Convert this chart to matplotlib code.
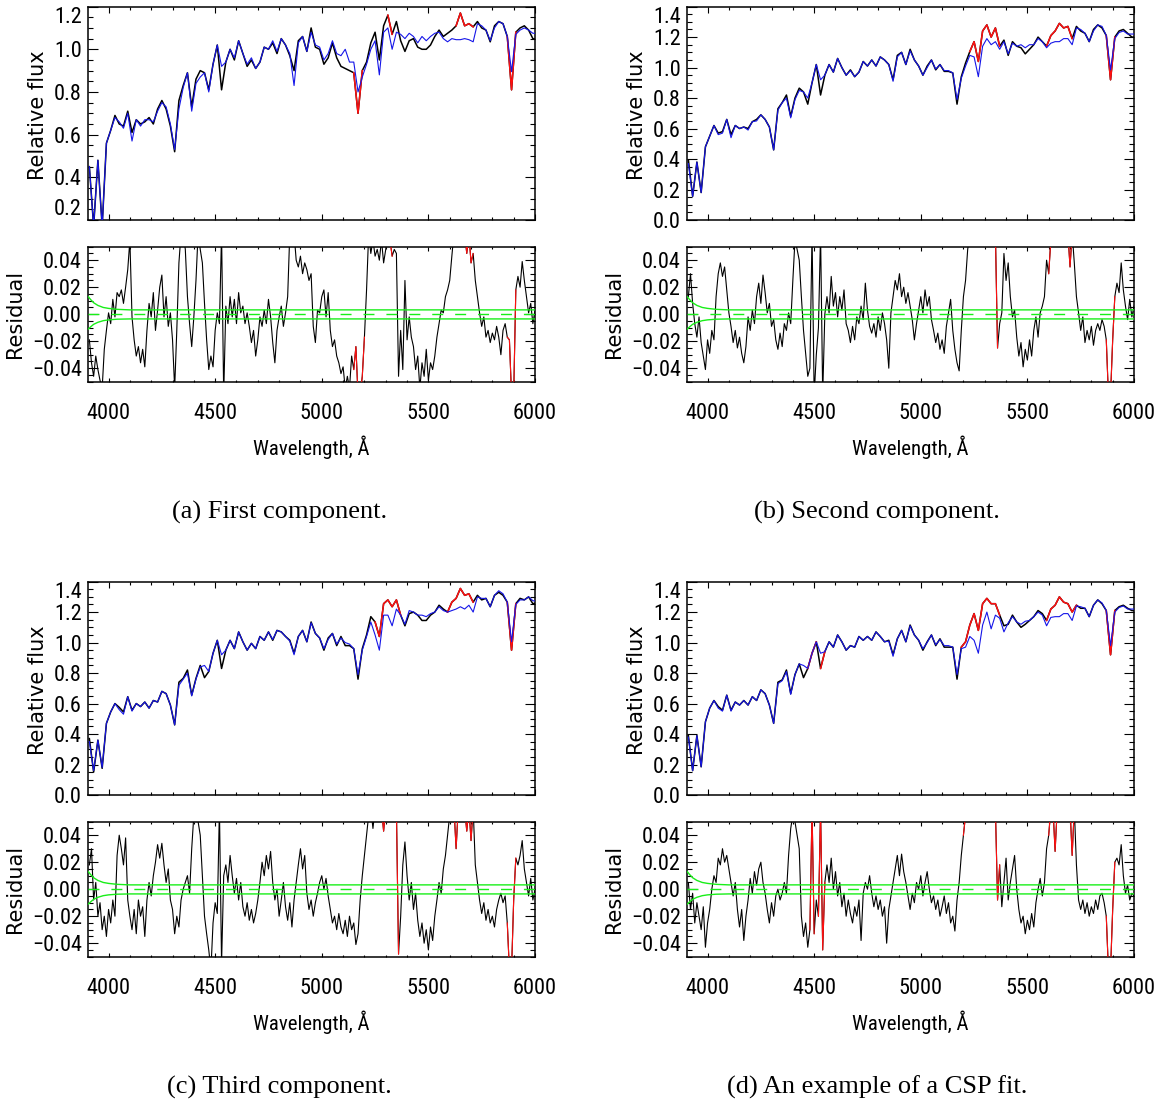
import numpy as np
import matplotlib
matplotlib.use("Agg")
import matplotlib.pyplot as plt
from matplotlib import font_manager
from matplotlib.ticker import MultipleLocator, FormatStrFormatter, FuncFormatter

# ---------------------------------------------------------------- data
# flux grid: 3910 .. 5990 every 20 A, plus 6010
flux_lam = np.array(list(range(3910, 6000, 20)) + [6010], dtype=float)
# residual grid: 3910 .. 6000 every 10 A
res_lam = np.arange(3910, 6001, 10, dtype=float)

flux_a_obs = [
    0.45, 0.17, 0.48, 0.17, 0.56,
    0.62, 0.69, 0.65, 0.64, 0.71,
    0.61, 0.67, 0.65, 0.66, 0.68,
    0.65, 0.72, 0.76, 0.72, 0.64,
    0.52, 0.76, 0.83, 0.89, 0.73,
    0.86, 0.90, 0.89, 0.81, 0.93,
    1.02, 0.81, 0.94, 1.00, 0.95,
    1.04, 0.98, 0.92, 0.95, 0.91,
    0.94, 1.01, 1.00, 1.03, 0.98,
    1.05, 1.02, 0.97, 0.90, 1.04,
    1.06, 0.99, 1.10, 1.01, 1.00,
    0.93, 0.96, 1.03, 0.96, 0.92,
    0.91, 0.90, 0.89, 0.70, 0.90,
    0.94, 1.03, 1.08, 0.95, 1.11,
    1.16, 1.07, 1.13, 1.04, 0.99,
    1.04, 1.05, 1.01, 1.00, 1.00,
    1.02, 1.06, 1.09, 1.06, 1.075,
    1.09, 1.11, 1.17, 1.11, 1.12,
    1.105, 1.13, 1.10, 1.09, 1.035,
    1.11, 1.13, 1.12, 1.06, 0.81,
    1.08, 1.10, 1.11, 1.09, 1.05,
    1.045]
flux_a_mod = [
    0.45, 0.17, 0.48, 0.17, 0.56,
    0.62, 0.68, 0.66, 0.63, 0.70,
    0.57, 0.67, 0.64, 0.67, 0.67,
    0.66, 0.71, 0.75, 0.73, 0.65,
    0.53, 0.72, 0.82, 0.89, 0.71,
    0.84, 0.87, 0.89, 0.80, 0.93,
    1.02, 0.92, 0.94, 1.00, 0.96,
    1.04, 0.98, 0.93, 0.96, 0.91,
    0.94, 1.01, 1.00, 1.04, 0.99,
    1.05, 1.02, 0.98, 0.83, 1.03,
    1.06, 0.99, 1.08, 1.02, 1.01,
    0.95, 0.98, 1.04, 0.98, 0.97,
    1.00, 0.94, 0.94, 0.80, 0.87,
    0.93, 1.00, 1.04, 0.88, 1.08,
    1.10, 1.00, 1.08, 1.07, 1.05,
    1.075, 1.06, 1.03, 1.06, 1.04,
    1.06, 1.075, 1.08, 1.05, 1.035,
    1.05, 1.045, 1.045, 1.05, 1.045,
    1.035, 1.12, 1.11, 1.09, 1.04,
    1.10, 1.13, 1.12, 1.06, 0.895,
    1.07, 1.09, 1.10, 1.09, 1.075,
    1.075]

flux_b_obs = [
    0.395, 0.155, 0.38, 0.18, 0.48,
    0.55, 0.62, 0.57, 0.58, 0.66,
    0.56, 0.62, 0.60, 0.61, 0.60,
    0.645, 0.66, 0.69, 0.66, 0.61,
    0.46, 0.73, 0.77, 0.82, 0.68,
    0.80, 0.865, 0.84, 0.76, 0.90,
    1.02, 0.82, 0.95, 1.02, 0.97,
    1.06, 1.00, 0.95, 0.985, 0.94,
    0.97, 1.04, 1.01, 1.05, 1.01,
    1.07, 1.05, 1.02, 0.92, 1.08,
    1.10, 1.02, 1.12, 1.05, 1.01,
    0.95, 1.01, 1.05, 0.985, 1.02,
    0.975, 0.975, 0.965, 0.76, 0.94,
    1.03, 1.105, 1.17, 1.04, 1.24,
    1.28, 1.20, 1.26, 1.14, 1.18,
    1.08, 1.17, 1.14, 1.13, 1.09,
    1.12, 1.15, 1.20, 1.17, 1.14,
    1.21, 1.24, 1.29, 1.26, 1.27,
    1.19, 1.27, 1.24, 1.225, 1.17,
    1.25, 1.28, 1.26, 1.21, 0.92,
    1.20, 1.24, 1.25, 1.225, 1.20,
    1.20]
flux_b_mod = [
    0.37, 0.155, 0.38, 0.18, 0.48,
    0.55, 0.62, 0.56, 0.57, 0.66,
    0.54, 0.62, 0.60, 0.61, 0.59,
    0.645, 0.65, 0.69, 0.66, 0.61,
    0.46, 0.72, 0.77, 0.80, 0.67,
    0.79, 0.85, 0.84, 0.80, 0.90,
    1.02, 0.92, 0.95, 1.02, 0.97,
    1.06, 1.00, 0.95, 0.98, 0.94,
    0.97, 1.04, 1.01, 1.05, 1.01,
    1.07, 1.05, 1.02, 0.91, 1.07,
    1.10, 1.02, 1.11, 1.05, 1.01,
    0.95, 1.00, 1.05, 0.99, 1.02,
    0.98, 0.98, 0.965, 0.79, 0.93,
    1.01, 1.08, 1.07, 0.94, 1.14,
    1.19, 1.15, 1.17, 1.12, 1.17,
    1.09, 1.16, 1.14, 1.15, 1.13,
    1.15, 1.15, 1.19, 1.17, 1.13,
    1.16, 1.17, 1.17, 1.19, 1.19,
    1.15, 1.26, 1.25, 1.225, 1.17,
    1.24, 1.28, 1.27, 1.21, 0.985,
    1.19, 1.23, 1.24, 1.22, 1.22,
    1.22]

flux_c_obs = [
    0.37, 0.15, 0.36, 0.175, 0.47,
    0.545, 0.60, 0.575, 0.545, 0.645,
    0.556, 0.60, 0.58, 0.61, 0.57,
    0.62, 0.61, 0.68, 0.665, 0.59,
    0.46, 0.74, 0.765, 0.82, 0.655,
    0.765, 0.85, 0.77, 0.81, 0.93,
    1.015, 0.83, 0.95, 1.015, 0.96,
    1.07, 1.005, 0.95, 0.995, 0.96,
    1.04, 1.015, 1.07, 1.015, 1.08,
    1.07, 1.04, 1.015, 0.93, 1.04,
    1.08, 1.005, 1.135, 1.06, 1.03,
    0.95, 1.03, 1.06, 0.98, 1.04,
    0.98, 0.98, 0.96, 0.76, 0.96,
    1.05, 1.17, 1.135, 1.04, 1.255,
    1.28, 1.235, 1.28, 1.18, 1.11,
    1.19, 1.20, 1.18, 1.145, 1.145,
    1.18, 1.20, 1.245, 1.22, 1.20,
    1.265, 1.29, 1.355, 1.31, 1.32,
    1.265, 1.31, 1.28, 1.29, 1.235,
    1.31, 1.33, 1.31, 1.265, 0.95,
    1.255, 1.29, 1.28, 1.30, 1.255,
    1.26]
flux_c_mod = [
    0.35, 0.16, 0.36, 0.18, 0.47,
    0.545, 0.60, 0.56, 0.53, 0.645,
    0.55, 0.60, 0.58, 0.61, 0.57,
    0.62, 0.61, 0.68, 0.665, 0.59,
    0.46, 0.72, 0.76, 0.80, 0.65,
    0.76, 0.84, 0.85, 0.81, 0.93,
    1.015, 0.92, 0.95, 1.015, 0.96,
    1.07, 1.005, 0.95, 0.995, 0.96,
    1.04, 1.015, 1.07, 1.02, 1.08,
    1.07, 1.04, 1.01, 0.92, 1.04,
    1.08, 1.005, 1.13, 1.06, 1.03,
    0.96, 1.02, 1.06, 0.99, 1.03,
    1.00, 0.99, 0.96, 0.79, 0.95,
    1.04, 1.135, 1.05, 0.95, 1.18,
    1.18, 1.11, 1.22, 1.18, 1.12,
    1.21, 1.20, 1.18, 1.18, 1.17,
    1.19, 1.20, 1.235, 1.21, 1.20,
    1.21, 1.22, 1.235, 1.22, 1.245,
    1.20, 1.30, 1.29, 1.29, 1.235,
    1.31, 1.34, 1.32, 1.265, 1.005,
    1.25, 1.28, 1.28, 1.30, 1.275,
    1.27]

flux_d_obs = [
    0.39, 0.16, 0.39, 0.185, 0.48,
    0.57, 0.62, 0.58, 0.556, 0.655,
    0.556, 0.61, 0.59, 0.62, 0.59,
    0.645, 0.62, 0.69, 0.665, 0.59,
    0.47, 0.74, 0.755, 0.82, 0.665,
    0.79, 0.86, 0.77, 0.83, 0.93,
    1.005, 0.83, 0.94, 1.005, 0.97,
    1.05, 1.005, 0.95, 0.98, 0.97,
    1.04, 1.015, 1.04, 1.015, 1.07,
    1.04, 1.005, 1.015, 0.92, 1.025,
    1.08, 1.005, 1.115, 1.05, 1.015,
    0.95, 1.005, 1.05, 0.98, 1.025,
    0.97, 0.97, 0.97, 0.76, 0.97,
    1.005, 1.115, 1.19, 1.08, 1.255,
    1.29, 1.255, 1.255, 1.18, 1.11,
    1.12, 1.18, 1.135, 1.10, 1.12,
    1.145, 1.17, 1.21, 1.19, 1.145,
    1.22, 1.245, 1.30, 1.265, 1.255,
    1.20, 1.245, 1.225, 1.225, 1.17,
    1.245, 1.28, 1.255, 1.21, 0.92,
    1.21, 1.235, 1.245, 1.225, 1.21,
    1.21]
flux_d_mod = [
    0.38, 0.16, 0.39, 0.185, 0.48,
    0.57, 0.62, 0.57, 0.55, 0.655,
    0.55, 0.61, 0.59, 0.62, 0.59,
    0.645, 0.62, 0.69, 0.665, 0.59,
    0.47, 0.73, 0.75, 0.81, 0.66,
    0.79, 0.86, 0.85, 0.83, 0.93,
    1.005, 0.93, 0.94, 1.005, 0.97,
    1.05, 1.005, 0.95, 0.98, 0.97,
    1.04, 1.015, 1.04, 1.015, 1.07,
    1.04, 1.005, 1.01, 0.91, 1.025,
    1.08, 1.005, 1.11, 1.05, 1.015,
    0.96, 1.00, 1.05, 0.985, 1.02,
    0.98, 0.98, 0.97, 0.79, 0.96,
    0.97, 1.04, 1.015, 0.93, 1.115,
    1.20, 1.09, 1.18, 1.16, 1.07,
    1.13, 1.17, 1.135, 1.12, 1.14,
    1.145, 1.17, 1.20, 1.18, 1.11,
    1.165, 1.17, 1.17, 1.19, 1.19,
    1.145, 1.24, 1.235, 1.225, 1.17,
    1.245, 1.28, 1.26, 1.21, 0.98,
    1.20, 1.23, 1.24, 1.22, 1.22,
    1.22]

# residuals in units of 0.001, 3910..6000 step 10 (rows of 100 A)
res_a = [
    -19, -36, -46, -31, -41, -49, -55, -26, -12, 1,
    -7, 11, -2, 16, 13, 18, 8, 20, 33, 55,
    -2, -19, -31, -24, -36, -26, -39, -12, 8, -2,
    16, -12, 3, 20, 29, -2, 13, -9, 1, -19,
    -55, -12, 38, 60, 60, 48, 13, -7, -24, -2,
    25, 60, 48, 38, 8, -19, -41, -31, -39, -12,
    1, -7, 60, -60, 6, -7, 13, -2, 11, -7,
    16, 1, 6, -7, 1, -9, -21, -12, -31, -19,
    -2, -9, 3, -7, 11, -2, -21, -36, -12, -2,
    6, -9, 1, 13, 60, 60, 60, 40, 35, 43,
    30, 38, 33, 25, 30, -9, -21, 3, 1, 13,
    18, -2, 16, -12, -24, -19, -31, -36, -44, -39,
    -55, -46, -55, -31, -41, -24, -60, -60, -46, -17,
    18, 60, 45, 55, 43, 48, 40, 55, 38, 48,
    60, 55, 43, 48, 45, -46, -12, -41, 25, -19,
    -2, -17, -24, -41, -31, -55, -36, -46, -26, -49,
    -36, -41, -31, -17, -7, 3, 1, 13, 18, 25,
    43, 60, 60, 60, 60, 55, 60, 45, 60, 38,
    45, 25, 13, 1, -9, -2, -17, -12, -21, -14,
    -19, -9, -17, -30, -12, -7, -17, -19, -60, -60,
    18, 28, 20, 39, 25, 13, 1, 8, -7, 3]
res_b = [
    13, 30, 8, -7, -17, -2, -21, -31, -41, -19,
    -29, -12, -19, 13, 30, 38, 28, 35, 18, 1,
    -9, -21, -12, -25, -17, -29, -36, -24, -2, -12,
    3, -7, 13, 23, 8, 29, 16, 1, 8, -9,
    -4, -19, -26, -14, -24, -7, -12, 1, -7, 25,
    55, 48, 40, 13, -12, -29, -46, -40, 60, -60,
    -30, -10, 60, -60, 0, 13, 1, 28, 6, 16,
    -2, 13, 3, 18, -7, -12, -21, -9, -19, -2,
    -7, 6, -4, 23, 3, -9, -14, -7, -17, -2,
    -12, 1, -7, -19, -40, 1, 13, 25, 18, 30,
    13, 20, 8, 16, 6, -4, -19, -7, 3, 13,
    1, 18, 6, 13, -4, -12, -21, -14, -26, -19,
    -29, -9, 1, 11, -12, -26, -36, -42, -12, 13,
    25, 48, 60, 60, 60, 60, 60, 60, 60, 60,
    60, 60, 60, 60, 60, -25, -7, 1, 45, 25,
    38, 13, -2, 3, -17, -31, -21, -39, -26, -34,
    -19, -31, -12, -2, -17, 1, 6, 13, 40, 30,
    55, 60, 60, 60, 60, 60, 60, 60, 60, 35,
    60, 38, 13, 1, -12, -2, -21, -12, -19, -9,
    -23, -12, -7, -12, -4, -9, -19, -60, -60, -19,
    13, 23, 16, 38, 18, 6, -4, 11, -2, 6]
res_c = [
    18, 30, -8, 5, -20, -10, -30, -20, -35, -15,
    -25, -8, -20, 25, 40, 30, 18, 38, -8, -20,
    -30, -15, -33, -8, -20, -13, -35, -8, 5, -5,
    10, 20, 33, 23, 34, 18, 5, 15, -8, -15,
    -33, -20, -28, -8, 0, 5, 10, -3, 30, 55,
    60, 50, 40, 10, -20, -33, -45, -60, -25, -10,
    -18, 60, -55, 10, 18, 5, 25, 10, -3, 8,
    -8, 5, -13, -20, -10, -23, -15, -25, -18, -8,
    5, 20, 10, 25, 15, 28, 5, -8, 0, -20,
    -8, 5, -13, -23, -10, -28, -8, 5, 18, 30,
    15, 25, -3, -15, -8, -20, -10, -3, 5, 10,
    0, 8, -5, -15, -25, -20, -30, -18, -28, -33,
    -23, -35, -20, -30, -25, -41, -33, -8, 10, 25,
    40, 55, 60, 45, 60, 60, 60, 60, 43, 60,
    60, 60, 60, 60, 60, -48, -20, 18, 35, 10,
    -8, 5, -15, -3, -23, -35, -25, -40, -30, -45,
    -28, -38, -20, -8, 5, -3, 15, 25, 40, 55,
    60, 60, 30, 60, 60, 60, 60, 43, 60, 36,
    60, 18, 5, -8, -18, -10, -23, -15, -25, -20,
    -28, -15, -8, -3, -10, -5, -25, -60, -60, -8,
    23, 18, 25, 36, 15, 5, -5, 8, -8, 0]
res_d = [
    5, -15, -3, -25, -10, -20, -30, -13, -43, -25,
    -15, 0, 10, 5, 23, 18, 30, 20, 25, 15,
    5, -5, 5, -15, -28, -15, -38, -20, -8, 8,
    -3, 13, 3, 15, 20, 5, -3, -15, -25, -10,
    -20, -5, 0, -8, -3, 5, -3, 25, 45, 55,
    50, 40, 30, -20, -35, -25, -43, -30, 60, -33,
    -8, -20, 60, -45, 5, 18, 5, 23, 0, 13,
    -5, 5, -13, -3, -20, -8, -18, -25, -13, -20,
    -8, -38, -3, 5, 0, 10, -3, -13, -5, -15,
    -8, -20, -13, -40, -15, -5, 5, 15, 25, 10,
    26, 13, 5, -5, -15, -3, -10, 5, 0, 10,
    -5, 5, 13, 0, -10, -5, -15, -8, -20, -13,
    -5, -18, -10, -25, -20, -31, -8, 5, 25, 40,
    55, 60, 60, 60, 60, 60, 60, 60, 60, 60,
    60, 60, 60, 60, 60, -8, 18, -13, 5, 23,
    -8, 5, 15, 25, 0, -15, -25, -20, -33, -23,
    -30, -18, -28, -10, 0, 8, -5, 5, 30, 40,
    60, 60, 28, 60, 60, 60, 60, 60, 60, 60,
    25, 60, 18, -8, -15, -8, -18, -10, -20, -13,
    -18, -8, -15, -5, -3, -10, -20, -60, -60, -15,
    20, 23, 18, 33, 10, -3, 3, -8, -3, -5]

# masked wavelength ranges (drawn in red)
mask_a = [(5155, 5195), (5315, 5330), (5640, 5710), (5875, 5905)]
mask_b = [(5235, 5360), (5600, 5710), (5875, 5905)]
mask_c = [(5250, 5360), (5600, 5710), (5875, 5905)]
mask_d = [(4480, 4500), (4525, 4545), (5200, 5365), (5600, 5720), (5875, 5905)]

# error envelope (green)
err_lam = [3905, 3915, 3930, 3950, 3975, 4000, 4040, 4100, 6000]
err_up = [0.013, 0.011, 0.0085, 0.0065, 0.005, 0.0043, 0.0036, 0.0032, 0.0032]
err_lo = [-0.011, -0.0095, -0.0075, -0.006, -0.0048, -0.0042, -0.0037, -0.0035, -0.0035]

flux_ticks_a = [0.2, 0.4, 0.6, 0.8, 1.0, 1.2]
flux_ticks_bcd = [0.0, 0.2, 0.4, 0.6, 0.8, 1.0, 1.2, 1.4]
res_ticks = [-0.04, -0.02, 0.0, 0.02, 0.04]
wave_ticks = [4000, 4500, 5000, 5500, 6000]

captions = ["(a) First component.", "(b) Second component.",
            "(c) Third component.", "(d) An example of a CSP fit."]

# ---------------------------------------------------------------- fonts
entries = font_manager.fontManager.ttflist
names = {f.name for f in entries}
COND_SET = ("condensed", "semi-condensed", "extra-condensed", "ultra-condensed")


def plain(f):
    fn = f.fname.lower()
    return f.style == "normal" and not any(s in fn for s in ("bold", "italic", "oblique", "light", "thin", "black", "medium", "semibold"))


TICK_FAMILY, TICK_STRETCH, NARROW = None, "normal", False
for nm in ["Liberation Sans Narrow", "Roboto Condensed", "Arial Narrow",
           "Noto Sans Condensed", "Open Sans Condensed", "DejaVu Sans Condensed"]:
    if nm in names:
        TICK_FAMILY, NARROW = nm, True
        break
if TICK_FAMILY is None:
    for fam in ["DejaVu Sans", "Noto Sans", "Open Sans", "Roboto", "Liberation Sans", "Lato", "Inter"]:
        if any(f.name == fam and str(f.stretch) in COND_SET and plain(f) for f in entries):
            TICK_FAMILY, TICK_STRETCH, NARROW = fam, "condensed", True
            break
if TICK_FAMILY is None:
    for f in entries:
        if ("Condensed" in f.name or "Narrow" in f.name) and plain(f):
            TICK_FAMILY, NARROW = f.name, True
            break
if TICK_FAMILY is None:
    TICK_FAMILY = "Roboto" if "Roboto" in names else "DejaVu Sans"

SERIF = "Liberation Serif" if "Liberation Serif" in names else "DejaVu Serif"
plt.rcParams["font.family"] = [TICK_FAMILY, "DejaVu Sans"]
plt.rcParams["font.stretch"] = TICK_STRETCH
TICK_SIZE = 16 if NARROW else 13.5
LAB_SIZE = 15 if NARROW else 14

BLUE = "#1515e8"
RED = "#ff1010"
GREEN = "#18ee18"

W, H = 1164, 1102
fig = plt.figure(figsize=(W / 100, H / 100), dpi=100)


def rect(x0, y0, x1, y1):
    return [x0 / W, 1 - y1 / H, (x1 - x0) / W, (y1 - y0) / H]


def draw_masked(ax, lam, val, masks, lw):
    mids = 0.5 * (lam[1:] + lam[:-1])
    for lo, hi in masks:
        sel = np.where((mids >= lo) & (mids <= hi))[0]
        if sel.size:
            i0, i1 = sel[0], sel[-1] + 1
            ax.plot(lam[i0:i1 + 1], val[i0:i1 + 1], color=RED, lw=lw, zorder=3)


def minus_fmt(fmt):
    return FuncFormatter(lambda v, p: (fmt % v).replace("-", "\u2212"))


def common(ax, xmaj, xmin):
    ax.set_xlim(3905, 6000)
    ax.set_xticks(wave_ticks)
    ax.xaxis.set_minor_locator(MultipleLocator(100))
    ax.tick_params(which="both", direction="in", top=True, right=True,
                   labelsize=TICK_SIZE, width=0.8, colors="black")
    ax.tick_params(axis="y", which="major", length=7.2, pad=4.5)
    ax.tick_params(axis="y", which="minor", length=3.6)
    ax.tick_params(axis="x", which="major", length=xmaj, pad=15)
    ax.tick_params(axis="x", which="minor", length=xmin)
    for s in ax.spines.values():
        s.set_linewidth(1.1)


datasets = [
    (flux_a_obs, flux_a_mod, res_a, mask_a, (0.2, 1.2), flux_ticks_a),
    (flux_b_obs, flux_b_mod, res_b, mask_b, (0.0, 1.4), flux_ticks_bcd),
    (flux_c_obs, flux_c_mod, res_c, mask_c, (0.0, 1.4), flux_ticks_bcd),
    (flux_d_obs, flux_d_mod, res_d, mask_d, (0.0, 1.4), flux_ticks_bcd),
]
offsets = [(0, 0), (599, 0), (0, 575), (599, 575)]
cap_x = [280, 877, 279, 877]

for k, ((obs, mod, res, mask, ylim, yt), (xo, yo)) in enumerate(zip(datasets, offsets)):
    obs = np.array(obs)
    mod = np.array(mod)
    res = np.array(res) / 1000.0

    # ---------- flux panel
    ax = fig.add_axes(rect(88.3 + xo, 6.6 + yo, 535 + xo, 220 + yo))
    ax.plot(flux_lam, obs, color="black", lw=1.1, zorder=2)
    draw_masked(ax, flux_lam, obs, mask, 1.1)
    ax.plot(flux_lam, mod, color=BLUE, lw=0.8, zorder=4)
    common(ax, 4.3, 2.2)
    ax.set_ylim(*ylim)
    ax.set_yticks(yt)
    ax.yaxis.set_minor_locator(MultipleLocator(0.05))
    ax.yaxis.set_major_formatter(FormatStrFormatter("%.1f"))
    ax.tick_params(axis="x", labelbottom=False)
    mt = ax.yaxis.get_major_ticks()
    # end labels pulled inside the frame where room allows
    if len(yt) <= 6:
        mt[0].label1.set_va("bottom")
    mt[-1].label1.set_va("top")
    ax.set_ylabel("Relative flux", fontfamily="DejaVu Sans", fontstretch="normal",
                  fontsize=LAB_SIZE)
    ax.yaxis.set_label_coords(-0.112, 0.49)
    ax.yaxis.label.set_va("center")

    # ---------- residual panel
    rx = fig.add_axes(rect(88.3 + xo, 246.7 + yo, 535 + xo, 381.7 + yo))
    rx.plot(res_lam, res, color="black", lw=0.8, zorder=2)
    draw_masked(rx, res_lam, res, mask, 0.8)
    rx.plot(err_lam, err_up, color=GREEN, lw=1.0, zorder=4)
    rx.plot(err_lam, err_lo, color=GREEN, lw=1.0, zorder=4)
    rx.axhline(0.0, color=GREEN, lw=1.0, dashes=(7.9, 8.6), zorder=4)
    common(rx, 3.0, 1.6)
    rx.set_ylim(-0.05, 0.05)
    rx.set_yticks(res_ticks)
    rx.yaxis.set_minor_locator(MultipleLocator(0.005))
    rx.yaxis.set_major_formatter(minus_fmt("%.2f"))
    rx.set_ylabel("Residual", fontfamily="DejaVu Sans", fontstretch="normal",
                  fontsize=LAB_SIZE)
    rx.yaxis.set_label_coords(-0.163, 0.5)
    rx.yaxis.label.set_va("center")
    rx.set_xlabel("Wavelength, \u00c5", fontsize=LAB_SIZE)
    rx.xaxis.set_label_coords(0.5, -(447 - 381.7) / 135.0)
    rx.xaxis.label.set_va("center")

    fig.text(cap_x[k] / W, 1 - (512 + yo) / H, captions[k], family=SERIF,
             fontsize=19, ha="center", va="center")

fig.savefig("out.png", dpi=100)
